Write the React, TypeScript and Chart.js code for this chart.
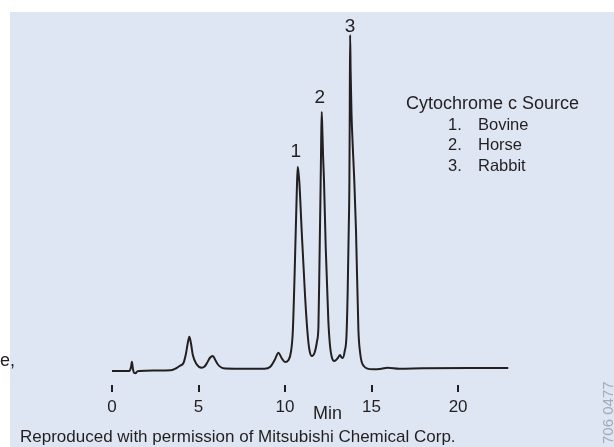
import React, { useEffect, useRef } from "react";
import { Chart, registerables } from "chart.js";

Chart.register(...registerables);

// Retention time (min) and detector response (arbitrary units)
const times = [
  0, 1.0, 1.1, 1.15, 1.21, 1.28, 1.36, 1.45, 1.6, 2.4, 3.4, 3.73, 3.93, 4.13, 4.27, 4.38, 4.47, 4.57, 4.67,
  4.88, 5.18, 5.35, 5.49, 5.65, 5.83, 5.97, 6.1, 6.44, 7.11, 8.81, 9.15, 9.4, 9.62, 9.8, 10.0, 10.2, 10.35,
  10.45, 10.55, 10.62, 10.68, 10.73, 10.78, 10.83, 10.96, 11.16, 11.3, 11.4, 11.54, 11.7, 11.85, 11.93, 11.99,
  12.06, 12.09, 12.12, 12.16, 12.2, 12.25, 12.35, 12.5, 12.6, 12.7, 12.83, 12.95, 13.05, 13.18, 13.25, 13.33,
  13.45, 13.55, 13.62, 13.68, 13.72, 13.74, 13.76, 13.79, 13.84, 13.92, 14.0, 14.1, 14.24, 14.34, 14.43, 14.55,
  14.72, 15.11, 15.58, 15.92, 16.6, 17.95, 20.66, 22.9,
];
const signal = [
  0, 0, 4, 9.3, 2, -2, -2.3, -0.5, 0, 0.5, 0.8, 3, 5.3, 8, 17, 28, 34.3, 27, 16,
  7, 3.3, 4.5, 8, 13, 15, 11, 7, 2.7, 2.3, 2.3, 4.3, 11, 18.3, 13, 9, 11, 20,
  40, 95, 141, 180, 204, 198, 188, 141, 74, 38, 22, 15, 18, 30, 45, 108,
  191, 232, 259, 238, 214, 191, 124, 51, 25, 14, 10, 11, 13, 16, 14, 13,
  20, 35, 80, 141, 191, 262, 336, 300, 258, 222, 191, 141, 41, 18, 9, 5,
  2.7, 1.7, 2.3, 3.3, 2.3, 2.7, 3, 3,
];

const tickValues = [0, 5, 10, 15, 20];
const peakLabels = ["1", "2", "3"];
const peakTimes = [10.73, 12.12, 13.76];
const legendTitle = "Cytochrome c Source";
const legendNumbers = ["1.", "2.", "3."];
const legendItems = ["Bovine", "Horse", "Rabbit"];
const xTitle = "Min";
const credit = "Reproduced with permission of Mitsubishi Chemical Corp.";
const docId = "706 0477";
const leftFragment = "e,";

const INK = "#231f20";
const BG = "#dee6f3";
const FAMILY = '"Liberation Sans", Arial, Helvetica, sans-serif';

export default function App() {
  const ref = useRef<HTMLCanvasElement>(null);

  useEffect(() => {
    if (!ref.current) return;

    const bgPlugin = {
      id: "bgPanel",
      beforeDraw(chart: any) {
        const ctx = chart.ctx;
        ctx.save();
        ctx.fillStyle = "#ffffff";
        ctx.fillRect(0, 0, chart.width, chart.height);
        ctx.fillStyle = BG;
        ctx.fillRect(10, 12, chart.width - 10, chart.height - 12);
        ctx.restore();
      },
    };

    const labelOffsets = [
      [-2, -10],
      [-2, -9],
      [0, -3],
    ];

    const textPlugin = {
      id: "annotations",
      afterDraw(chart: any) {
        const ctx = chart.ctx;
        const xs = chart.scales.x;
        const ys = chart.scales.y;
        ctx.save();
        ctx.fillStyle = INK;
        ctx.textBaseline = "alphabetic";

        // Peak labels
        ctx.font = `19px ${FAMILY}`;
        ctx.textAlign = "center";
        peakTimes.forEach((t, i) => {
          let best = 0;
          times.forEach((tt, j) => {
            if (Math.abs(tt - t) < Math.abs(times[best] - t)) best = j;
          });
          const px = xs.getPixelForValue(t);
          const py = ys.getPixelForValue(signal[best]);
          ctx.fillText(peakLabels[i], px + labelOffsets[i][0], py + labelOffsets[i][1]);
        });

        // Legend block
        ctx.textAlign = "left";
        ctx.font = `18px ${FAMILY}`;
        ctx.fillText(legendTitle, 406, 109);
        ctx.font = `16.5px ${FAMILY}`;
        const rows = [130, 150, 171];
        legendItems.forEach((item, i) => {
          ctx.fillText(legendNumbers[i], 448, rows[i]);
          ctx.fillText(item, 478, rows[i]);
        });

        // Axis title
        ctx.font = `18px ${FAMILY}`;
        ctx.textAlign = "center";
        ctx.fillText(xTitle, 327.5, 419);

        // Credit line
        ctx.font = `17px ${FAMILY}`;
        ctx.textAlign = "left";
        ctx.fillText(credit, 20, 441.5);

        // Fragment at left edge
        ctx.font = `18px ${FAMILY}`;
        ctx.fillText(leftFragment, 0, 366);

        // Rotated document id
        ctx.save();
        ctx.fillStyle = "#a3aab8";
        ctx.font = `15px ${FAMILY}`;
        ctx.translate(613, 444);
        ctx.rotate(-Math.PI / 2);
        ctx.textAlign = "left";
        ctx.fillText(docId, 0, 0);
        ctx.restore();

        ctx.restore();
      },
    };

    const chart = new Chart(ref.current, {
      type: "line",
      data: {
        datasets: [
          {
            data: times.map((t, i) => ({ x: t, y: signal[i] })),
            borderColor: INK,
            borderWidth: 2,
            pointRadius: 0,
            cubicInterpolationMode: "monotone",
            fill: false,
          },
        ],
      },
      options: {
        responsive: false,
        animation: false,
        layout: { padding: { left: 112, right: 104, top: 12, bottom: 0 } },
        plugins: {
          legend: { display: false },
          tooltip: { enabled: false },
          title: { display: false },
        },
        scales: {
          x: {
            type: "linear",
            min: 0,
            max: 23,
            afterBuildTicks: (s: any) => {
              s.ticks = tickValues.map((v) => ({ value: v }));
            },
            afterFit: (s: any) => {
              s.height = 62;
            },
            grid: {
              display: true,
              drawOnChartArea: false,
              drawTicks: true,
              tickLength: 7,
              color: INK,
              lineWidth: 2,
            },
            border: { display: false },
            ticks: {
              color: INK,
              font: { family: FAMILY, size: 17 },
              padding: 5,
              maxRotation: 0,
              autoSkip: false,
            },
          },
          y: { display: false, min: -14, max: 359 },
        },
      } as any,
      plugins: [bgPlugin, textPlugin],
    });

    return () => chart.destroy();
  }, []);

  return (
    <canvas
      ref={ref}
      width={614}
      height={447}
      style={{ position: "absolute", left: 0, top: 0, display: "block", width: 614, height: 447 }}
    />
  );
}
